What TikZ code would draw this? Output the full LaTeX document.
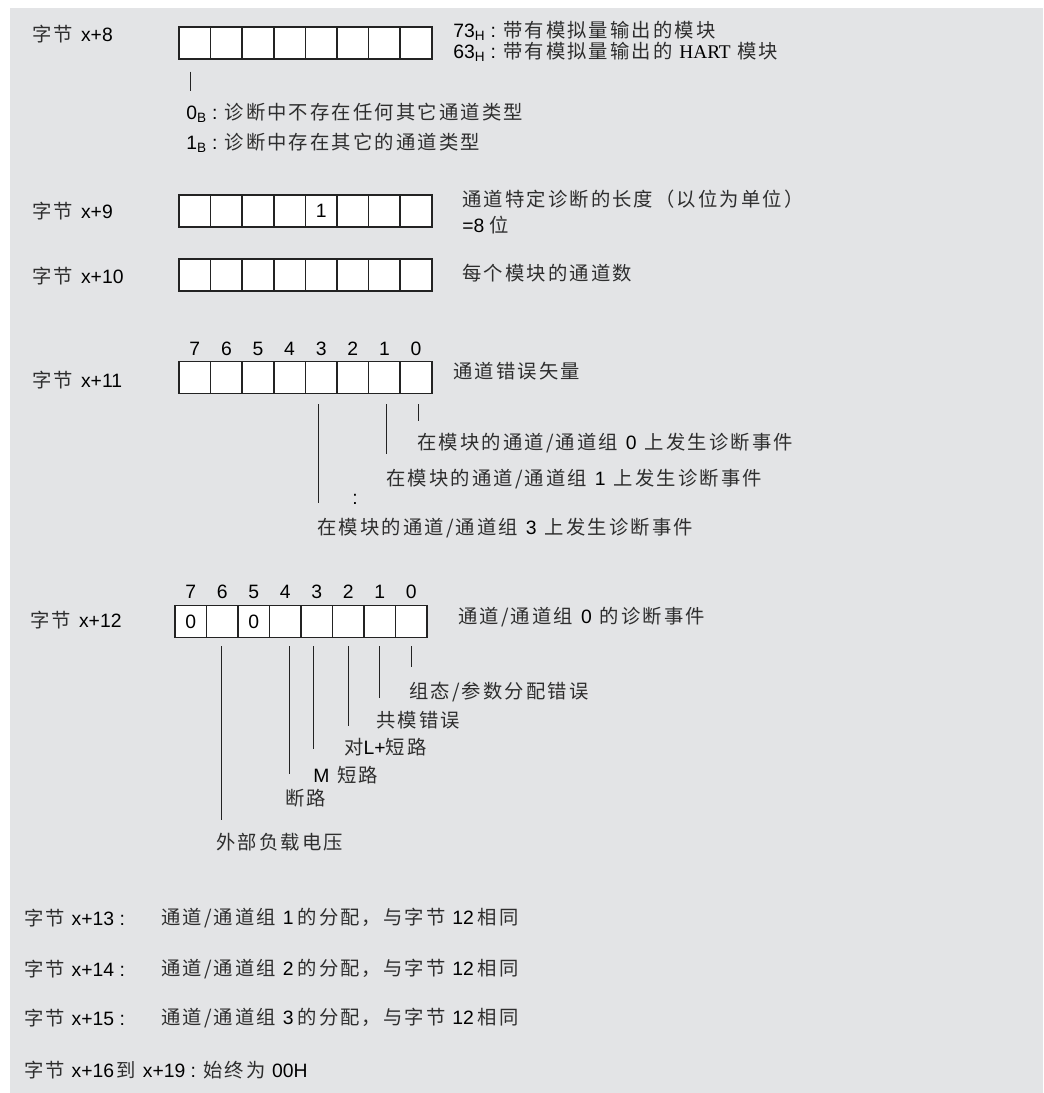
\documentclass[tikz,border=0pt]{standalone}
\usepackage{fontspec}
\setmainfont{Liberation Sans}
\newfontfamily\cjkfont[LetterSpace=11]{Noto Sans CJK SC}
\newfontfamily\hartfont{Liberation Serif}
\usetikzlibrary{calc}
\definecolor{panelgray}{RGB}{227,228,230}
\definecolor{inkgray}{RGB}{35,35,35}
\newcommand{\zh}[1]{{\cjkfont\color{black!82}#1}}
\tikzset{
  bitcell/.style = {draw=inkgray, line width=1.1pt, fill=white,
                    minimum width=23.7pt, minimum height=24pt, inner sep=0pt},
  leader/.style  = {draw=inkgray, line width=0.75pt},
  txt/.style     = {anchor=west, inner sep=0pt},
  bitnum/.style  = {inner sep=0pt},
}

\begin{document}
\begin{tikzpicture}[x=0.75pt, y=-0.75pt, every node/.style={font=\fontsize{14.5}{17}\selectfont}]
  % page and grey panel
  \fill[white] (0,0) rectangle (1043,1093);
  \fill[panelgray] (10,8) rectangle (1043,1093);
  \useasboundingbox (0,0) rectangle (1043,1093);

  % byte registers x+8 ... x+11
  \foreach \row/\yc in {8/43, 9/211, 10/275, 11/377.5} {
    \foreach \i in {0,...,7} {
      \pgfmathtruncatemacro{\bit}{7-\i}
      \node[bitcell] (r\row-\bit) at (179+31.6*\i+15.8, \yc) {};
    }
  }
  % byte register x+12
  \foreach \i in {0,...,7} {
    \pgfmathtruncatemacro{\bit}{7-\i}
    \node[bitcell] (r12-\bit) at (175+31.5*\i+15.75, 621.5) {};
  }

  % row labels
  \node[txt] (lbl8)  at (32,34)  {\zh{字节}\hspace{6pt}x+8};
  \node[txt] (lbl9)  at (32,211) {\zh{字节}\hspace{6pt}x+9};
  \node[txt] (lbl10) at (32,276) {\zh{字节}\hspace{6pt}x+10};
  \node[txt] (lbl11) at (32,380) {\zh{字节}\hspace{6pt}x+11};
  \node[txt] (lbl12) at (30,620) {\zh{字节}\hspace{6pt}x+12};

  % byte x+8
  \node[txt] (id73) at (453,31) {73\textsubscript{H} : \zh{带有模拟量输出的模块}};
  \node[txt] (id63) at (453,52) {63\textsubscript{H} : \zh{带有模拟量输出的}\hspace{5pt}{\hartfont HART}\hspace{5pt}\zh{模块}};
  \draw[leader] ($(r8-7.south)+(-4,12)$) -- ++(0,19);
  \node[txt] (ch0) at (186,113) {0\textsubscript{B} : \zh{诊断中不存在任何其它通道类型}};
  \node[txt] (ch1) at (186,143) {1\textsubscript{B} : \zh{诊断中存在其它的通道类型}};

  % byte x+9 and x+10
  \node (v9-3) at (r9-3) {1};
  \node[txt] (len9a) at (462,199) {\zh{通道特定诊断的长度（以位为单位）}};
  \node[txt] (len9b) at (462,225) {=8 \zh{位}};
  \node[txt] (num10) at (462,273) {\zh{每个模块的通道数}};

  % byte x+11
  \foreach \b in {7,...,0}
    \node[bitnum] (n11-\b) at ($(r11-\b.north)+(0,-12)$) {\b};
  \node[txt] (vec11) at (453,371) {\zh{通道错误矢量}};
  \foreach \b/\dx/\len in {3/-3/99, 1/2/50, 0/2/17}
    \draw[leader] ($(r11-\b.south)+(\dx,10)$) -- ++(0,\len);
  \node[txt] (ev0) at (417,443) {\zh{在模块的通道/通道组}\hspace{6pt}0\hspace{6pt}\zh{上发生诊断事件}};
  \node[txt] (ev1) at (386,479) {\zh{在模块的通道/通道组}\hspace{6pt}1\hspace{6pt}\zh{上发生诊断事件}};
  \node (dots) at (355,499) {:};
  \node[txt] (ev3) at (317,528) {\zh{在模块的通道/通道组}\hspace{6pt}3\hspace{6pt}\zh{上发生诊断事件}};

  % byte x+12
  \foreach \b in {7,...,0}
    \node[bitnum] (n12-\b) at ($(r12-\b.north)+(0,-13)$) {\b};
  \node (v12-7) at (r12-7) {0};
  \node (v12-5) at (r12-5) {0};
  \node[txt] (diag12) at (458,617) {\zh{通道/通道组}\hspace{6pt}0\hspace{6pt}\zh{的诊断事件}};
  \foreach \b/\dx/\len in {6/-1/174, 4/4/128, 3/-3/103, 2/0/80, 1/0/52, 0/0/21}
    \draw[leader] ($(r12-\b.south)+(\dx,8)$) -- ++(0,\len);
  \node[txt] (cfg)  at (409,692) {\zh{组态/参数分配错误}};
  \node[txt] (cm)   at (376,720) {\zh{共模错误}};
  \node[txt] (lp)   at (344,747) {\zh{对}L+\zh{短路}};
  \node[txt] (mm)   at (313,775) {M\hspace{6pt}\zh{短路}};
  \node[txt] (wb)   at (285,798) {\zh{断路}};
  \node[txt] (ext)  at (216,842) {\zh{外部负载电压}};

  % bytes x+13 ... x+19
  \foreach \n/\g/\yc in {13/1/918, 14/2/969, 15/3/1018} {
    \node[txt] (lbl\n) at (24,\yc) {\zh{字节}\hspace{5pt}x+\n\ :};
    \node[txt] (as\n)  at (161,\yc) {\zh{通道/通道组}\hspace{5pt}\g\hspace{3pt}\zh{的分配，与字节}\hspace{5pt}12\hspace{3pt}\zh{相同}};
  }
  \node[txt] (lbl16) at (24,1070) {\zh{字节}\hspace{5pt}x+16\hspace{2pt}\zh{到}\hspace{5pt}x+19 : \zh{始终为}\hspace{5pt}00H};
\end{tikzpicture}
\end{document}
